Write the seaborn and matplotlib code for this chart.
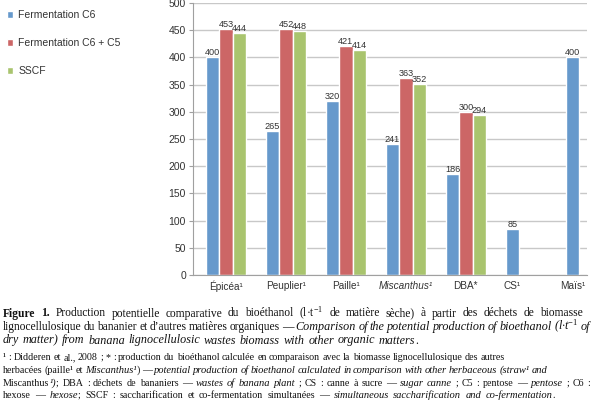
import numpy as np
import pandas as pd
import matplotlib
matplotlib.use("Agg")
import matplotlib.pyplot as plt
import seaborn as sns

# data (l/t of dry matter)
categories = ["Épicéa¹", "Peuplier¹", "Paille¹", "Miscanthus¹", "DBA*", "CS¹", "Maïs¹"]
series = ["Fermentation C6", "Fermentation C6 + C5", "SSCF"]
fermentation_c6 = [400, 265, 320, 241, 186, 85, 400]
fermentation_c6_c5 = [453, 452, 421, 363, 300, np.nan, np.nan]
sscf = [444, 448, 414, 352, 294, np.nan, np.nan]
y_ticks = [0, 50, 100, 150, 200, 250, 300, 350, 400, 450, 500]
colors = ["#6699CC", "#CC6666", "#A9C46E"]

df = pd.DataFrame({
    "Biomasse": categories * 3,
    "Serie": np.repeat(series, len(categories)),
    "Production": fermentation_c6 + fermentation_c6_c5 + sscf,
}).dropna()

sns.set_theme(style="white")
plt.rcParams["font.family"] = ["Liberation Sans", "DejaVu Sans"]
plt.rcParams["mathtext.fontset"] = "custom"
plt.rcParams["mathtext.rm"] = "Liberation Serif"
plt.rcParams["mathtext.it"] = "Liberation Serif:italic"
plt.rcParams["mathtext.bf"] = "Liberation Serif:bold"

fig = plt.figure(figsize=(6, 4.01), dpi=100)
W, H = 600, 401
ax = fig.add_axes([193 / W, 1 - 275 / H, 394 / W, 272 / H])

bar_width = 0.667
sns.barplot(data=df, x="Biomasse", y="Production", hue="Serie", order=categories,
            hue_order=series, palette=colors, saturation=1, width=bar_width,
            errorbar=None, ax=ax)

for c in ax.containers:
    ax.bar_label(c, fmt="%d", fontsize=6.6, padding=0, color="#333333")

# grid / axes look
ax.set_ylim(0, 500)
ax.set_yticks(y_ticks)
ax.yaxis.grid(True, color="#C8C8C8", linewidth=1.0)
ax.set_axisbelow(True)
for s in ["top", "right"]:
    ax.spines[s].set_visible(False)
for s in ["left", "bottom"]:
    ax.spines[s].set_color("#A0A0A0")
    ax.spines[s].set_linewidth(0.8)
ax.tick_params(axis="y", left=True, length=3, width=0.8, color="#A0A0A0",
               pad=2, labelsize=7.5, labelcolor="#333333")
ax.tick_params(axis="x", bottom=False, pad=-2, labelsize=7.2, labelcolor="#333333")

# CS and Mais only have the first bar, their label sits under it
offset = bar_width / 3
xpos = [0, 1, 2, 3, 4, 5 - offset, 6 - offset]
ax.set_xticks(xpos, categories)
ax.get_xticklabels()[3].set_fontstyle("italic")
ax.set_xlim(-0.55, 6.02)
ax.set_xlabel("")
ax.set_ylabel("")

h, l = ax.get_legend_handles_labels()
ax.legend(h, l, loc="upper left", bbox_to_anchor=(7 / W, 1 - 10 / H),
          bbox_transform=fig.transFigure, frameon=False, fontsize=7.5,
          handlelength=0.6, handleheight=0.6, handletextpad=0.5,
          labelspacing=1.75, borderpad=0, borderaxespad=0,
          labelcolor="#333333")

# caption below the chart, word by word so styles can mix
renderer = fig.canvas.get_renderer()
styles = {"r": dict(), "b": dict(fontweight="bold"), "i": dict(fontstyle="italic")}
italic_scale = 1.05


def draw_line(pieces, y, size, x1, x0=3):
    runs = []
    pending = False
    for text, st in pieces:
        for k, part in enumerate(text.split(" ")):
            if k > 0:
                pending = True
            if part:
                runs.append([part, st, pending and len(runs) > 0])
                pending = False
    objs = []
    widths = []
    for part, st, gap in runs:
        fs = size * italic_scale if st == "i" else size
        t = fig.text(0, 1 - y / H, part, fontsize=fs, family="Liberation Serif",
                     color="#111111", va="baseline", ha="left", **styles[st])
        objs.append(t)
        widths.append(t.get_window_extent(renderer).width)
    ngaps = sum(1 for r in runs if r[2])
    space = (x1 - x0 - sum(widths)) / ngaps
    space = min(max(space, size * 100 / 72 * 0.18), size * 100 / 72 * 0.5)
    x = x0
    for t, w, r in zip(objs, widths, runs):
        if r[2]:
            x += space
        t.set_x(x / W)
        x += w


cap = 8.3
foot = 7.2
draw_line([("Figure 1.", "b"),
           (" Production potentielle comparative du bioéthanol (l·t$^{-1}$ de matière sèche) "
            "à partir des déchets de biomasse", "r")], 316.5, cap, 590)
draw_line([("lignocellulosique du bananier et d’autres matières organiques — ", "r"),
           ("Comparison of the potential production of bioethanol (l·t$^{-1}$ of", "i")],
          330, cap, 590)
draw_line([("dry matter) from banana lignocellulosic wastes biomass with other organic matters", "i"),
           (".", "r")], 343.5, cap, 418)
draw_line([("¹ : Didderen et al., 2008 ; * : production du bioéthanol calculée en comparaison "
            "avec la biomasse lignocellulosique des autres", "r")], 360, foot, 505)
draw_line([("herbacées (paille¹ et ", "r"), ("Miscanthus¹", "i"), (") — ", "r"),
           ("potential production of bioethanol calculated in comparison with other "
            "herbaceous (straw¹ and", "i")], 373, foot, 547)
draw_line([("Miscanthus", "r"), ("¹)", "i"), ("; DBA : déchets de bananiers — ", "r"),
           ("wastes of banana plant", "i"), (" ; CS : canne à sucre — ", "r"),
           ("sugar canne", "i"), (" ; C5 : pentose — ", "r"), ("pentose", "i"),
           (" ; C6 :", "r")], 386, foot, 590)
draw_line([("hexose — ", "r"), ("hexose", "i"),
           ("; SSCF : saccharification et co-fermentation simultanées — ", "r"),
           ("simultaneous saccharification and co-fermentation", "i"), (".", "r")],
          398, foot, 555)

fig.savefig("out.png", dpi=100)
